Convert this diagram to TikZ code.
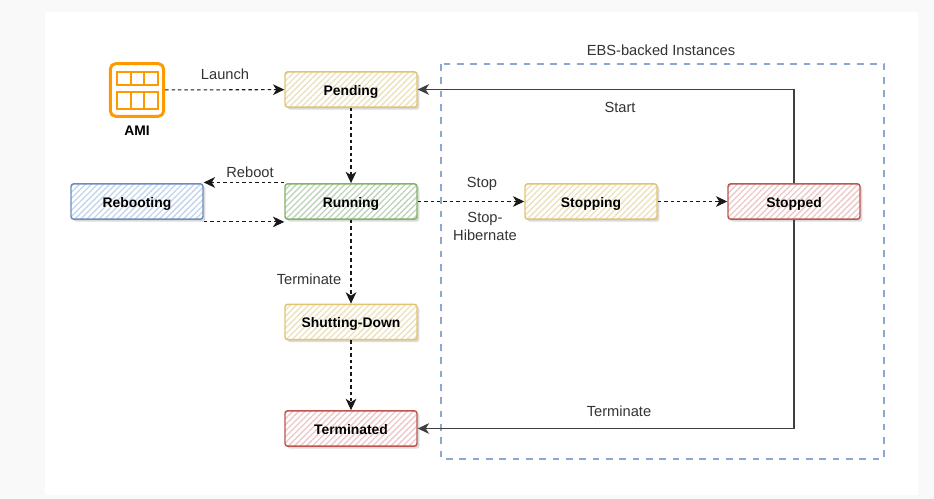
\documentclass[tikz,border=0pt]{standalone}
\usepackage{fontspec}
\setmainfont{Liberation Sans}
\usetikzlibrary{arrows.meta, patterns.meta, shadows, positioning}
\definecolor{pageColor}{RGB}{249, 249, 249}
\definecolor{amiColor}{RGB}{255, 153, 0}
\definecolor{frameColor}{RGB}{140, 168, 210}
\definecolor{yellowLine}{RGB}{226, 196, 110}
\definecolor{yellowFill}{RGB}{236, 226, 190}
\definecolor{greenLine}{RGB}{130, 179, 102}
\definecolor{greenFill}{RGB}{190, 212, 186}
\definecolor{blueLine}{RGB}{108, 142, 191}
\definecolor{blueFill}{RGB}{196, 214, 236}
\definecolor{redLine}{RGB}{191, 84, 80}
\definecolor{redFill}{RGB}{238, 200, 200}
\tikzset{
    statebox/.style n args={2}{draw=#1, line width=1.1pt, rounded corners=2pt,
        minimum width=99pt, minimum height=26.5pt, inner sep=0pt, text height=8.5pt, text depth=0pt,
        font=\fontsize{10.4}{12}\selectfont\bfseries,
        preaction={fill=white, drop shadow={shadow xshift=1.8pt, shadow yshift=-1.8pt, fill=black!20, opacity=0.7}},
        pattern={Lines[angle=45, distance=3.2pt, line width=1pt]}, pattern color=#2},
    flowlabel/.style={font=\fontsize{11}{13.5}\selectfont, inner sep=0pt, align=center, text=black!80},
    dashline/.style={draw=black!90, dash pattern=on 2.6pt off 2.2pt, line width=0.8pt, -{Stealth[length=8.5pt, width=8pt, inset=2.5pt]}},
    solidline/.style={draw=black!75, line width=0.8pt, -{Stealth[length=8.5pt, width=8pt, inset=2.5pt]}},
}
\begin{document}
\begin{tikzpicture}[x=0.75pt, y=-0.75pt]
    % Page background
    \fill[pageColor] (0,0) rectangle (934,499);
    \fill[white] (45,12) rectangle (918,495);
    \useasboundingbox (0,0) rectangle (934,499);

    % EBS frame
    \draw[frameColor, line width=2pt, dash pattern=on 5pt off 5pt] (441,64) rectangle (884,459);
    \node[flowlabel] (ebsLabel) at (661,50) {EBS-backed Instances};

    % AMI icon
    \node[draw=amiColor, line width=2.2pt, rounded corners=4pt, minimum width=40pt, minimum height=39.5pt, inner sep=0pt] (ami) at (137,90) {};
    \draw[amiColor, line width=1.9pt] (117,72) rectangle (158,85);
    \draw[amiColor, line width=1.9pt] (117,92) rectangle (158,109);
    \foreach \gridx in {131,144} {
        \draw[amiColor, line width=1.9pt] (\gridx,72) -- (\gridx,85);
        \draw[amiColor, line width=1.9pt] (\gridx,92) -- (\gridx,109);
    }
    \node[font=\fontsize{10.4}{12}\selectfont\bfseries, inner sep=0pt] (amiLabel) at (137,131) {AMI};

    % States
    \node[statebox={yellowLine}{yellowFill}] (pending) at (351,89.5) {Pending};
    \node[statebox={greenLine}{greenFill}] (running) at (351,201.5) {Running};
    \node[statebox={blueLine}{blueFill}] (rebooting) at (137,201.5) {Rebooting};
    \node[statebox={yellowLine}{yellowFill}] (stopping) at (591,201.5) {Stopping};
    \node[statebox={redLine}{redFill}] (stopped) at (794,201.5) {Stopped};
    \node[statebox={yellowLine}{yellowFill}] (shutting) at (351,322) {Shutting-Down};
    \node[statebox={redLine}{redFill}] (terminated) at (351,428.5) {Terminated};

    % Connectors
    \draw[dashline] (ami) -- (pending);
    \draw[dashline] (pending) -- (running);
    \draw[dashline] ([yshift=0.5pt]running.north west) -- ([yshift=0.5pt]rebooting.north east);
    \draw[dashline] ([yshift=-1.5pt]rebooting.south east) -- ([yshift=-1.5pt]running.south west);
    \draw[dashline] (running) -- (shutting);
    \draw[dashline] (shutting) -- (terminated);
    \draw[dashline] (running) -- (stopping);
    \draw[dashline] (stopping) -- (stopped);
    \draw[solidline] (stopped.north) |- (pending.east);
    \draw[solidline] (stopped.south) |- (terminated.east);

    % Labels
    \node[flowlabel] (launchLabel) at (225,74) {Launch};
    \node[flowlabel] (rebootLabel) at (250,172) {Reboot};
    \node[flowlabel] (stopLabel) at (482,184) {Stop};
    \node[flowlabel] (hibernateLabel) at (485,226) {Stop-\\Hibernate};
    \node[flowlabel] (startLabel) at (620,107) {Start};
    \node[flowlabel] (terminateLeft) at (309,279) {Terminate};
    \node[flowlabel] (terminateRight) at (619,411) {Terminate};
\end{tikzpicture}
\end{document}
